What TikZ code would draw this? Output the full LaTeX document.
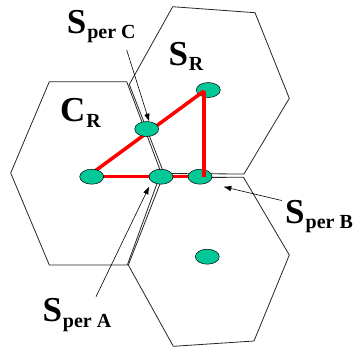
\documentclass[tikz,border=0pt]{standalone}
\usepackage{fontspec}
\setmainfont{Liberation Serif}
\usetikzlibrary{shapes.geometric,arrows.meta}
\definecolor{cellgreen}{RGB}{0,200,150}
\definecolor{linkred}{RGB}{255,0,0}
\tikzset{
  hexline/.style={draw=black!85, line width=0.8pt},
  station/.style={ellipse, draw=black, line width=0.5pt, fill=cellgreen, minimum width=24pt, minimum height=15pt, inner sep=0pt},
  link/.style={draw=linkred, line width=3.5pt},
  pointer/.style={draw=black, line width=0.6pt, -{Latex[length=8pt,width=5.5pt]}},
  lbl/.style={anchor=base west, inner sep=0pt, font=\bfseries\fontsize{35}{35}\selectfont}
}
\newcommand{\subtxt}[1]{\hspace{1pt}\raisebox{-5.5pt}{\fontsize{20}{20}\selectfont #1}}
\begin{document}
\begin{tikzpicture}[x=1pt,y=-1pt]
\useasboundingbox (0,0) rectangle (353,349);
% hexagons
\draw[hexline] (49.3,81.7) -- (126.7,81.7) -- (161,172.5) -- (127.3,265) -- (49.3,265) -- (10.7,173) -- cycle;
\draw[hexline] (172.7,6.7) -- (255,12.7) -- (289.3,98.3) -- (244,174) -- (164,173.5) -- (129.3,84.5) -- cycle;
\draw[hexline] (162.5,177.5) -- (243.5,177.3) -- (289.3,255) -- (254,341) -- (173.3,346.3) -- (128.3,265) -- cycle;
% top station and links
\node[station] (sr) at (208.3,90) {};
\coordinate (apex) at (204,91);
\coordinate (cornerB) at (204,176.7);
\coordinate (crc) at (91.7,176.7);
\coordinate (crd) at (95,171);
\draw[link] (crd) -- (apex);
\draw[link] (crc) -- (cornerB);
\node[station] (cr) at (crc) {};
\node[station] (pa) at (161,176.7) {};
\node[station] (pb) at (200,176.7) {};
\node[station] (pc) at (146.7,129) {};
\node[station] (bs) at (207.3,256.7) {};
\draw[link] (apex) -- (cornerB);
% labels
\node[lbl] (lsc) at (66.7,33.3) {S\subtxt{per C}};
\node[lbl] (lsr) at (168.3,65) {S\subtxt{R}};
\node[lbl] (lcr) at (60,121.7) {C\subtxt{R}};
\node[lbl] (lsb) at (285,223.3) {S\subtxt{per B}};
\node[lbl] (lsa) at (42.3,321.7) {S\subtxt{per A}};
% pointers
\coordinate (tc) at (126.7,50);
\coordinate (ta) at (96,296.7);
\coordinate (tb) at (281.7,200.5);
\coordinate (hc) at (149.3,121.7);
\coordinate (ha) at (149.3,186.3);
\coordinate (hb) at (223.3,186.7);
\draw[pointer] (tc) -- (hc);
\draw[pointer] (ta) -- (ha);
\draw[pointer] (tb) -- (hb);
\end{tikzpicture}
\end{document}
